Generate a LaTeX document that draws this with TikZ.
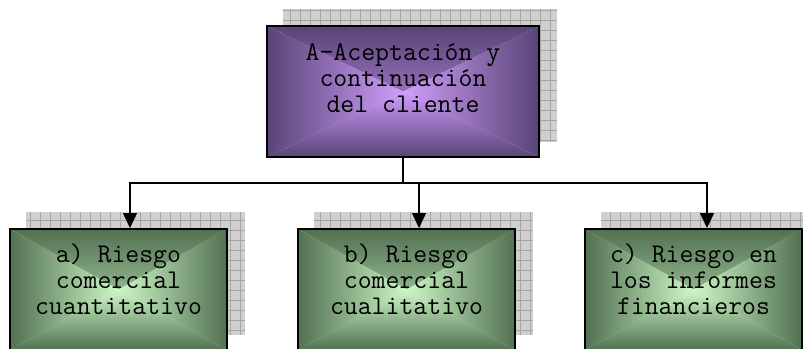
\documentclass[tikz,border=0pt]{standalone}
\usepackage{fontspec}
\usetikzlibrary{arrows.meta,backgrounds,calc}
\definecolor{purpout}{RGB}{88,68,118}
\definecolor{purpin}{RGB}{208,158,252}
\definecolor{grnout}{RGB}{82,112,82}
\definecolor{grnin}{RGB}{205,248,198}
\definecolor{shadowfill}{RGB}{208,208,208}
\definecolor{shadowgrid}{RGB}{165,165,165}
\tikzset{
 pyr/.style 2 args={path picture={
   \shade[top color=#1,middle color=#2!75!#1,bottom color=#2] (path picture bounding box.north west) -- (path picture bounding box.north east) -- (path picture bounding box.center) -- cycle;
   \shade[top color=#2,middle color=#2!75!#1,bottom color=#1] (path picture bounding box.south west) -- (path picture bounding box.south east) -- (path picture bounding box.center) -- cycle;
   \shade[left color=#1,middle color=#2!75!#1,right color=#2] (path picture bounding box.north west) -- (path picture bounding box.south west) -- (path picture bounding box.center) -- cycle;
   \shade[left color=#2,middle color=#2!75!#1,right color=#1] (path picture bounding box.north east) -- (path picture bounding box.south east) -- (path picture bounding box.center) -- cycle;
 }},
 boxbase/.style={draw=black, line width=2pt, rectangle, inner sep=0pt},
 topbox/.style={boxbase, pyr={purpout}{purpin}, minimum width=272pt, minimum height=131pt},
 subbox/.style={boxbase, pyr={grnout}{grnin}, minimum width=217pt, minimum height=121pt},
 txt/.style={align=center, font=\ttfamily\fontsize{27}{26}\selectfont, text=black, inner sep=0pt},
 conn/.style={line width=1.5pt, -{Triangle[length=15pt,width=14pt]}},
 shadowrect/.style={fill=shadowfill},
 shadowlines/.style={draw=shadowgrid, line width=0.7pt, step=10pt},
}
\begin{document}
\begin{tikzpicture}[x=1pt,y=-1pt]
\useasboundingbox (0,0) rectangle (803,348);
\node[topbox] (top) at (403,91.5) {};
\node[subbox] (a) at (118.5,289.5) {};
\node[subbox] (b) at (406.5,289.5) {};
\node[subbox] (c) at (693.5,289.5) {};
\begin{scope}[on background layer]
 \foreach \n in {top,a,b,c} {
  \fill[shadowrect] ([shift={(16.5pt,16.5pt)}]\n.south west) rectangle ([shift={(16.5pt,16.5pt)}]\n.north east);
  \draw[shadowlines] ([shift={(16.5pt,16.5pt)}]\n.south west) grid ([shift={(16.5pt,16.5pt)}]\n.north east);
 }
\end{scope}
\node[txt] (ttop) at ([yshift=13pt]top.center) {A-Aceptación y\\continuación\\del cliente};
\node[txt] (ta) at ([yshift=10pt]a.center) {a) Riesgo\\comercial\\cuantitativo};
\node[txt] (tb) at ([yshift=10pt]b.center) {b) Riesgo\\comercial\\cualitativo};
\node[txt] (tc) at ([yshift=10pt]c.center) {c) Riesgo en\\los informes\\financieros};
\coordinate (j) at ($(top.south)+(0,25)$);
\draw[conn] (top.south) -- (j) -| ([xshift=11.5pt]a.north);
\draw[conn] (j) -| ([xshift=12.5pt]b.north);
\draw[conn] (j) -| ([xshift=13.5pt]c.north);
\end{tikzpicture}
\end{document}
